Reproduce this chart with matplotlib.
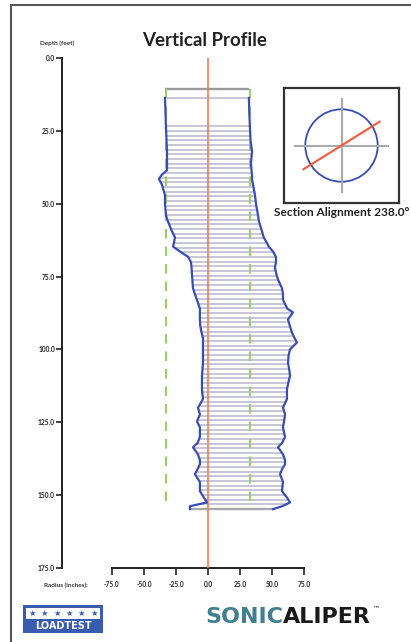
import matplotlib
matplotlib.use("Agg")
import matplotlib.pyplot as plt
from matplotlib.patches import Rectangle, Circle
import numpy as np

"""
    Sonic caliper vertical profile - recreation
"""

# Measured profile: depth (feet) with left / right radius (inches)
depth_ft = [13.7, 18.0, 24.0, 28.0, 32.0, 36.0, 38.5, 40.0, 41.5, 43.5,
            47.0, 50.0, 54.0, 56.0, 59.5, 61.5, 63.5, 64.7, 66.4, 68.2,
            70.0, 72.0, 74.3, 76.0, 79.0, 81.0, 83.0, 86.0, 87.3, 89.7,
            92.0, 94.2, 96.0, 97.6, 100.0, 102.0, 104.5, 107.0, 109.0, 111.0,
            113.7, 117.0, 120.0, 122.3, 124.7, 126.7, 128.5, 130.0, 132.0, 133.6,
            136.0, 138.0, 139.4, 141.0, 142.8, 145.5, 148.6, 151.0, 152.5, 153.8,
            154.8]
left_in = [-33.6, -33.2, -32.8, -32.4, -32.0, -32.0, -32.0, -35.9, -38.3, -35.9,
           -33.6, -33.6, -32.8, -31.3, -28.1, -25.8, -26.6, -27.3, -21.9, -15.6,
           -13.3, -12.8, -12.5, -12.2, -11.7, -10.2, -8.6, -6.3, -6.3, -6.3,
           -6.0, -5.0, -3.9, -3.9, -3.9, -3.9, -3.9, -4.3, -4.7, -4.7,
           -4.7, -3.9, -7.8, -6.3, -8.6, -6.3, -6.3, -6.3, -8.0, -11.7,
           -7.8, -6.3, -6.3, -8.0, -10.2, -6.3, -6.3, -3.0, -0.8, -14.1,
           -14.1]
right_in = [32.0, 32.2, 32.8, 33.2, 34.4, 33.6, 34.0, 34.4, 34.4, 35.2,
            36.7, 37.5, 39.1, 39.8, 42.2, 43.5, 46.1, 47.5, 50.8, 53.1,
            53.1, 52.3, 53.5, 54.7, 57.8, 58.6, 58.6, 62.0, 66.4, 62.5,
            64.0, 65.6, 67.5, 69.5, 64.1, 63.0, 62.5, 63.5, 64.1, 63.0,
            61.7, 61.7, 58.6, 60.2, 59.4, 58.6, 59.4, 60.2, 58.0, 54.7,
            58.6, 60.2, 60.2, 58.0, 56.3, 58.6, 57.8, 62.0, 64.1, 58.0,
            50.8]

top_depth = 10.6          # top of shaft
nominal_radius = 32.5     # design radius (green dashed)
alignment_deg = 238.0     # section alignment
first_rung = 23.5         # first scan below the casing
rung_spacing = 1.6        # scan interval (feet)

depth_ticks = [0, 25, 50, 75, 100, 125, 150, 175]
radius_ticks = [-75, -50, -25, 0, 25, 50, 75]

W, H = 411, 642
fig = plt.figure(figsize=(W / 100, H / 100), dpi=100)
fig.patch.set_facecolor("white")
font = "Lato"

# background layer in pixel coordinates for frame, titles and logos
bg = fig.add_axes([0, 0, 1, 1])
bg.set_xlim(0, W)
bg.set_ylim(H, 0)
bg.axis("off")

# outer frame (left and top edges)
bg.plot([11, 11, W], [H, 5, 5], color="#555555", lw=1.5, solid_joinstyle="miter")

# main profile axes
ax = fig.add_axes([62 / W, (H - 568) / H, 242 / W, 510 / H])
ax.set_xlim(-114, 75)
ax.set_ylim(175, 0)
ax.patch.set_alpha(0)

rung_depths = np.concatenate([[depth_ft[0]],
                              np.arange(first_rung, depth_ft[-1], rung_spacing)])
rung_left = np.interp(rung_depths, depth_ft, left_in)
rung_right = np.interp(rung_depths, depth_ft, right_in)
ax.hlines(rung_depths, rung_left, rung_right, color="#c2c2d4", lw=1.3, zorder=2)

# top and bottom boundaries
ax.hlines(top_depth, left_in[0], right_in[0], color="#9a9a9a", lw=1.7, zorder=2)
ax.hlines(depth_ft[-1], left_in[-1], right_in[-1], color="#a8a8a8", lw=1.7, zorder=2)

# nominal radius
for r in (-nominal_radius, nominal_radius):
    ax.plot([r, r], [top_depth, depth_ft[-1] - 1], color="#9ccf6c", lw=1.5,
            linestyle=(0, (4.6, 3.8)), zorder=2.5)

# centre line
ax.plot([0, 0], [0, 175], color="#f27a5e", lw=1.2, zorder=3)

# measured walls
ax.plot(left_in, depth_ft, color="#3a4db5", lw=1.6, zorder=4)
ax.plot(right_in, depth_ft, color="#3a4db5", lw=1.6, zorder=4)

# axes styling
for s in ("top", "right"):
    ax.spines[s].set_visible(False)
ax.spines["left"].set_bounds(0, 175)
ax.spines["bottom"].set_bounds(-75, 75)
for s in ("left", "bottom"):
    ax.spines[s].set_linewidth(1.4)
    ax.spines[s].set_color("#222222")

ax.set_yticks(depth_ticks)
ax.set_yticklabels([f"{v:.1f}" for v in depth_ticks])
ax.set_xticks(radius_ticks)
ax.set_xticklabels([f"{v:.1f}" for v in radius_ticks])
ax.tick_params(axis="y", direction="out", length=4.3, width=1.2, pad=0.8,
               labelsize=4.8, colors="#222222")
ax.tick_params(axis="x", direction="out", length=5, width=1.2, pad=4.2,
               labelsize=4.8, colors="#222222")
for lab in ax.get_xticklabels() + ax.get_yticklabels():
    lab.set_fontweight("bold")
    lab.set_family(font)

bg.text(57.5, 43, "Depth (feet)", ha="center", va="center", fontsize=4.6,
        fontweight="bold", family=font, color="#333333")
bg.text(66, 585, "Radius (inches):", ha="center", va="center", fontsize=4.6,
        fontweight="bold", family=font, color="#333333")
bg.text(205, 40, "Vertical Profile", ha="center", va="center", fontsize=13.5,
        fontweight="bold", family=font, color="#222222")

# section alignment inset
ins = fig.add_axes([284 / W, (H - 203) / H, 115 / W, 115 / H])
ins.set_xlim(-1, 1)
ins.set_ylim(-1, 1)
ins.set_xticks([])
ins.set_yticks([])
for s in ins.spines.values():
    s.set_linewidth(1.6)
    s.set_color("#333333")
ins.plot([-0.81, 0.81], [0, 0], color="#aaaaaa", lw=1.5)
ins.plot([0, 0], [-0.81, 0.81], color="#aaaaaa", lw=1.5)
ins.add_patch(Circle((0, 0), 0.63, fill=False, edgecolor="#3a4db5", lw=1.3))
theta = np.radians(alignment_deg)
dx, dy = 0.78 * np.sin(theta), 0.78 * np.cos(theta)
ins.plot([-dx, dx], [-dy, dy], color="#f05a3c", lw=1.5)
bg.text(341.5, 212, f"Section Alignment {alignment_deg:.1f}°", ha="center",
        va="center", fontsize=8.6, fontweight="bold", family=font, color="#222222")

# LOADTEST logo
bg.add_patch(Rectangle((23, 605), 80, 28, facecolor="#3a5cb0", edgecolor="none"))
bg.add_patch(Rectangle((26, 607.5), 74, 11, facecolor="white", edgecolor="none"))
for i in range(6):
    bg.text(32 + i * 12.4, 613.5, "★", ha="center", va="center", fontsize=6,
            color="#3a5cb0", family="DejaVu Sans")
bg.text(63, 626, "LOADTEST", ha="center", va="center", fontsize=7,
        fontweight="bold", color="white", family="DejaVu Sans")

# SONICALIPER logo
bg.text(283, 617, "SONIC", ha="right", va="center", fontsize=16,
        fontweight="bold", color="#3f7f8e", family="DejaVu Sans")
bg.text(283, 617, "ALIPER", ha="left", va="center", fontsize=16,
        fontweight="bold", color="#1a1a1a", family="DejaVu Sans")
bg.text(373, 608, "™", ha="left", va="center", fontsize=5, color="#1a1a1a")

fig.savefig("out.png", dpi=100)
